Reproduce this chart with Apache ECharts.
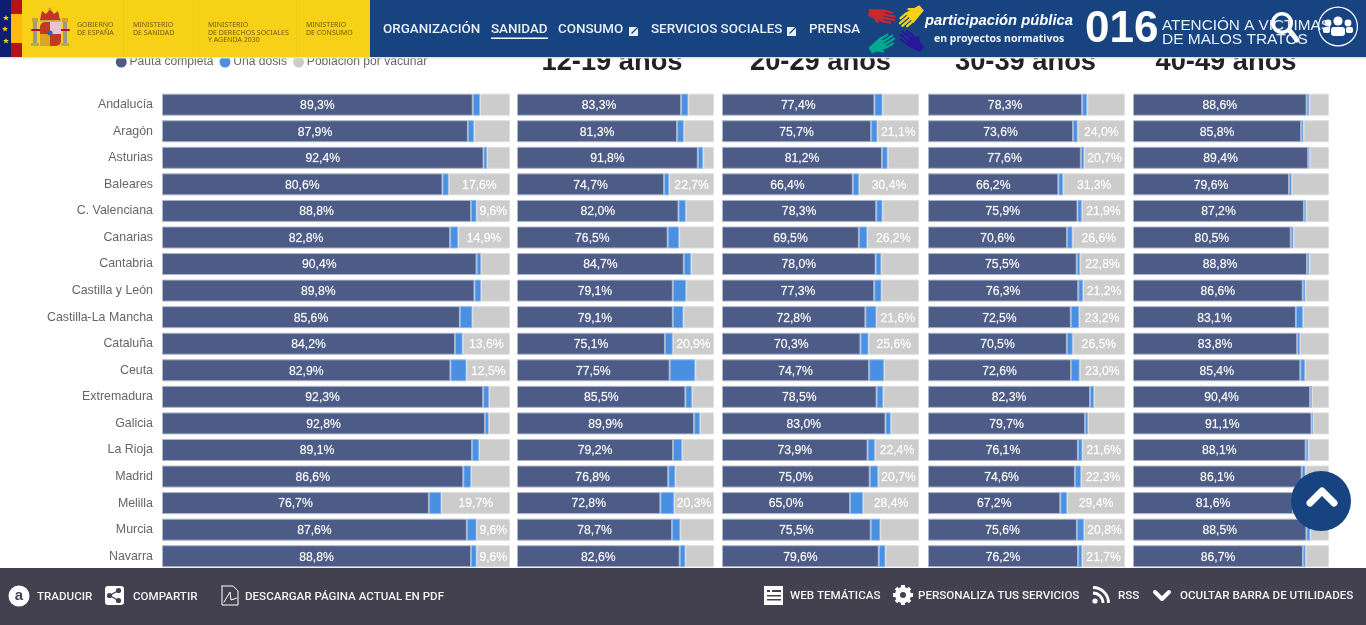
<!DOCTYPE html>
<html>
<head>
<meta charset="utf-8">
<title>Vacunación por grupos de edad</title>
<script src="https://cdn.jsdelivr.net/npm/echarts@6/dist/echarts.min.js"></script>
<style>
html, body { margin: 0; padding: 0; background: #fff; overflow: hidden; }
#chart { width: 1366px; height: 625px; }
</style>
</head>
<body>
<div id="chart"></div>
<script>
// datos
var comunidades = ['Andalucía', 'Aragón', 'Asturias', 'Baleares', 'C. Valenciana', 'Canarias', 'Cantabria', 'Castilla y León', 'Castilla-La Mancha', 'Cataluña', 'Ceuta', 'Extremadura', 'Galicia', 'La Rioja', 'Madrid', 'Melilla', 'Murcia', 'Navarra'];

var completaTotal = [89.3, 87.9, 92.4, 80.6, 88.8, 82.8, 90.4, 89.8, 85.6, 84.2, 82.9, 92.3, 92.8, 89.1, 86.6, 76.7, 87.6, 88.8];
var unaTotal = [2.1, 1.8, 1.0, 1.8, 1.6, 2.3, 1.3, 1.9, 3.6, 2.2, 4.6, 1.7, 1.1, 2.0, 2.2, 3.6, 2.8, 1.6];
var faltaTotal = [8.6, 10.3, 6.6, 17.6, 9.6, 14.9, 8.3, 8.3, 10.8, 13.6, 12.5, 6.0, 6.1, 8.9, 11.2, 19.7, 9.6, 9.6];

var completa12 = [83.3, 81.3, 91.8, 74.7, 82.0, 76.5, 84.7, 79.1, 79.1, 75.1, 77.5, 85.5, 89.9, 79.2, 76.8, 72.8, 78.7, 82.6];
var una12 = [3.7, 3.4, 2.7, 2.6, 3.7, 5.8, 3.7, 6.8, 5.4, 4.0, 13.0, 3.4, 3.0, 4.6, 3.6, 6.9, 4.2, 2.9];
var falta12 = [13.0, 15.3, 5.5, 22.7, 14.3, 17.7, 11.6, 14.1, 15.5, 20.9, 9.5, 11.1, 7.1, 16.2, 19.6, 20.3, 17.1, 14.5];

var completa20 = [77.4, 75.7, 81.2, 66.4, 78.3, 69.5, 78.0, 77.3, 72.8, 70.3, 74.7, 78.5, 83.0, 73.9, 75.0, 65.0, 75.5, 79.6];
var una20 = [4.1, 3.2, 2.9, 3.2, 3.2, 4.3, 2.9, 3.7, 5.6, 4.1, 7.6, 3.4, 2.7, 3.7, 4.3, 6.6, 4.9, 3.4];
var falta20 = [18.5, 21.1, 15.9, 30.4, 18.5, 26.2, 19.1, 19.0, 21.6, 25.6, 17.7, 18.1, 14.3, 22.4, 20.7, 28.4, 19.6, 17.0];

var completa30 = [78.3, 73.6, 77.6, 66.2, 75.9, 70.6, 75.5, 76.3, 72.5, 70.5, 72.6, 82.3, 79.7, 76.1, 74.6, 67.2, 75.6, 76.2];
var una30 = [2.5, 2.4, 1.7, 2.5, 2.2, 2.8, 1.7, 2.5, 4.3, 3.0, 4.4, 2.0, 1.5, 2.3, 3.1, 3.4, 3.6, 2.1];
var falta30 = [19.2, 24.0, 20.7, 31.3, 21.9, 26.6, 22.8, 21.2, 23.2, 26.5, 23.0, 15.7, 18.8, 21.6, 22.3, 29.4, 20.8, 21.7];

var completa40 = [88.6, 85.8, 89.4, 79.6, 87.2, 80.5, 88.8, 86.6, 83.1, 83.8, 85.4, 90.4, 91.1, 88.1, 86.1, 81.6, 88.5, 86.7];
var una40 = [1.4, 1.2, 0.7, 1.4, 1.2, 1.4, 1.2, 1.4, 3.6, 1.4, 2.4, 1.0, 0.9, 1.4, 1.9, 2.2, 2.0, 1.4];
var falta40 = [10.0, 13.0, 9.9, 19.0, 11.6, 18.1, 10.0, 12.0, 13.3, 14.8, 12.2, 8.6, 8.0, 10.5, 12.0, 16.2, 9.5, 11.9];

var titulos = ['', '12-19 años', '20-29 años', '30-39 años', '40-49 años'];
var nombresSerie = ['Pauta completa', 'Una dosis', 'Población por vacunar'];

var paneles = [
    { left: 162, width: 348, centroTitulo: 0, datos: [completaTotal, unaTotal, faltaTotal] },
    { left: 517, width: 197, centroTitulo: 612, datos: [completa12, una12, falta12] },
    { left: 722, width: 197, centroTitulo: 820.5, datos: [completa20, una20, falta20] },
    { left: 928, width: 197, centroTitulo: 1025.5, datos: [completa30, una30, falta30] },
    { left: 1133, width: 196, centroTitulo: 1226, datos: [completa40, una40, falta40] }
];

var colores = ['#4d5c87', '#4a90e2', '#cccccc'];
var bordes = ['#aeb5c9', '#8fb8ea', '#dedede'];
var fuente = '"Liberation Sans", Arial, sans-serif';

function pct(v) {
    return v.toFixed(1).replace('.', ',') + '%';
}

// la etiqueta gris solo aparece si cabe en el tramo
function etiquetaGris(ancho) {
    return function (p) {
        var px = p.value * ancho / 100;
        return px >= (p.value >= 10 ? 39 : 32) ? pct(p.value) : '';
    };
}

var grids = [], xAxes = [], yAxes = [], series = [], titles = [];
paneles.forEach(function (panel, i) {
    grids.push({ left: panel.left, width: panel.width, top: 91.4, height: 478.1 });
    xAxes.push({ type: 'value', gridIndex: i, min: 0, max: 100, show: false });
    yAxes.push({
        type: 'category',
        gridIndex: i,
        inverse: true,
        data: comunidades,
        axisLine: { show: false },
        axisTick: { show: false },
        axisLabel: {
            show: i === 0,
            margin: 9,
            color: '#666666',
            fontSize: 12.4,
            fontFamily: fuente,
            padding: [0, 0, 4, 0]
        }
    });
    panel.datos.forEach(function (valores, j) {
        var label = { show: false };
        if (j === 0) {
            label = {
                show: true, position: 'inside', offset: [0, 1], color: '#fff', fontSize: 12.2, fontFamily: fuente,
                textBorderColor: 'rgba(255,255,255,0.4)', textBorderWidth: 0.4,
                formatter: function (p) { return pct(p.value); }
            };
        } else if (j === 2) {
            label = {
                show: true, position: 'inside', offset: [0, 1], color: '#fff', fontSize: 12.2, fontFamily: fuente,
                textBorderColor: 'rgba(255,255,255,0.5)', textBorderWidth: 0.35,
                formatter: etiquetaGris(panel.width)
            };
        }
        series.push({
            name: nombresSerie[j],
            type: 'bar',
            stack: 'p' + i,
            xAxisIndex: i,
            yAxisIndex: i,
            barWidth: 22,
            data: valores,
            label: label,
            itemStyle: { color: colores[j], borderColor: bordes[j], borderWidth: 1 }
        });
    });
    if (titulos[i]) {
        titles.push({
            text: titulos[i],
            left: panel.centroTitulo - 5,
            top: 44,
            textAlign: 'center',
            textStyle: { fontSize: 27.3, fontWeight: 'bold', color: '#222222', fontFamily: fuente }
        });
    }
});

// ---- cabecera y pie de la pagina ----
var Z = 50;
function rect(x, y, w, h, fill, r) {
    return { type: 'rect', z: Z, shape: { x: x, y: y, width: w, height: h, r: r || 0 }, style: { fill: fill } };
}
function circle(x, y, r, fill) {
    return { type: 'circle', z: Z + 1, shape: { cx: x, cy: y, r: r }, style: { fill: fill } };
}
function poly(pts, fill) {
    return { type: 'polygon', z: Z + 1, shape: { points: pts }, style: { fill: fill } };
}
function trazo(pts, color, w) {
    return { type: 'polyline', z: Z + 3, shape: { points: pts }, style: { stroke: color, lineWidth: w, fill: null, lineCap: 'round', lineJoin: 'round' } };
}
function texto(t, x, y, font, fill, align) {
    return { type: 'text', z: Z + 2, x: x, y: y, style: { text: t, font: font, fill: fill, textAlign: align || 'left', textVerticalAlign: 'middle' } };
}
function estrella(x, y) {
    return poly([[x, y - 3], [x + 0.8, y - 1], [x + 3, y - 1], [x + 1.2, y + 0.4], [x + 2, y + 2.6], [x, y + 1.2], [x - 2, y + 2.6], [x - 1.2, y + 0.4], [x - 3, y - 1], [x - 0.8, y - 1]], '#f7d117');
}
function mano(x, y, rot, color) {
    var dedos = [-5, -2, 1, 4].map(function (d, k) {
        return { type: 'rect', z: Z + 1, shape: { x: 2, y: d, width: k === 0 || k === 3 ? 8 : 11, height: 2, r: 1 }, style: { fill: color } };
    });
    return {
        type: 'group', x: x, y: y, rotation: rot, scaleX: 1.15, scaleY: 1.15,
        children: [
            { type: 'polygon', z: Z + 1, shape: { points: [[-11, -3], [3, -5.5], [3, 6], [-11, 3]] }, style: { fill: color } },
            { type: 'rect', z: Z + 1, shape: { x: -3, y: 5, width: 7, height: 2, r: 1 }, style: { fill: color }, rotation: -0.7 }
        ].concat(dedos)
    };
}

var NAVY = '#174481';
var OLIVA = '#6f5a14';
var MENU = '500 13.4px Roboto';
var PIE = '500 11.6px Roboto';
var graficos = [
    rect(0, 0, 370, 57, '#f7d117'),
    rect(370, 0, 996, 57, NAVY),
    rect(0, 57, 1366, 1.5, '#dfe1e6'),
    // bandera
    rect(0, 0, 11, 57, '#0c1d72'),
    rect(11, 0, 11, 14, '#b5121b'),
    rect(11, 14, 11, 29, '#fdbb0f'),
    rect(11, 43, 11, 14, '#b5121b'),
    estrella(6, 18), estrella(5, 29), estrella(6, 41),
    // escudo
    rect(33, 21, 4, 24, '#9a9a8a'),
    rect(63, 21, 4, 24, '#9a9a8a'),
    rect(32, 18, 6, 4, '#c5a52e'),
    rect(62, 18, 6, 4, '#c5a52e'),
    rect(31, 43, 8, 3, '#b5a96a'),
    rect(61, 43, 8, 3, '#b5a96a'),
    rect(31, 29, 39, 2, '#b5121b', 1),
    rect(40, 22, 21, 24, '#c23a26', 5),
    rect(50, 22, 11, 12, '#e4c6cf'),
    rect(40, 34, 10, 12, '#d8a623'),
    circle(50, 33, 2.5, '#3a5aa8'),
    poly([[40, 20], [42, 11], [46, 14], [50, 9], [54, 14], [58, 11], [60, 20]], '#c5322a'),
    rect(40, 19, 21, 2.5, '#c5a52e'),
    circle(50, 9, 1.5, '#c5a52e'),
    // texto ministerios
    texto('GOBIERNO', 77, 25, '7px "Noto Sans"', OLIVA),
    texto('DE ESPAÑA', 77, 32.5, '7px "Noto Sans"', OLIVA),
    rect(123, 0, 0.7, 57, '#f2c70e'),
    texto('MINISTERIO', 133, 25, '7px "Noto Sans"', OLIVA),
    texto('DE SANIDAD', 133, 32.5, '7px "Noto Sans"', OLIVA),
    rect(198, 0, 0.7, 57, '#f2c70e'),
    texto('MINISTERIO', 208, 25, '7px "Noto Sans"', OLIVA),
    texto('DE DERECHOS SOCIALES', 208, 32.5, '7px "Noto Sans"', OLIVA),
    texto('Y AGENDA 2030', 208, 40, '7px "Noto Sans"', OLIVA),
    rect(296, 0, 0.7, 57, '#f2c70e'),
    texto('MINISTERIO', 306, 25, '7px "Noto Sans"', OLIVA),
    texto('DE CONSUMO', 306, 32.5, '7px "Noto Sans"', OLIVA),
    // menu
    texto('ORGANIZACIÓN', 383, 30, MENU, '#e9eef5'),
    texto('SANIDAD', 491, 30, MENU, '#e9eef5'),
    rect(491, 37.5, 57, 1.5, '#ffffff'),
    texto('CONSUMO', 558, 30, MENU, '#e9eef5'),
    rect(629, 27, 9, 9, '#e9eef5'),
    trazo([[632, 33], [639, 26]], NAVY, 1.3),
    texto('SERVICIOS SOCIALES', 651, 30, MENU, '#e9eef5'),
    rect(787, 27, 9, 9, '#e9eef5'),
    trazo([[790, 33], [797, 26]], NAVY, 1.3),
    texto('PRENSA', 809, 30, MENU, '#e9eef5'),
    // manos participacion
    mano(881, 15, -0.2, '#c9282c'),
    mano(912, 16, 3.85, '#f7d117'),
    mano(881, 44, 0.55, '#00a88f'),
    mano(912, 42, 2.5, '#2a169c'),
    texto('participación pública', 925, 21, 'italic bold 14.8px "Liberation Sans"', '#ffffff'),
    texto('en proyectos normativos', 934, 39, 'bold 10.5px "Noto Sans"', '#f0f3f8'),
    texto('016', 1085, 30, 'bold 44px "Liberation Sans"', '#ffffff'),
    texto('ATENCIÓN A VICTIMAS', 1162, 26, '15.3px "Liberation Sans"', '#e9eef5'),
    texto('DE MALOS TRATOS', 1162, 40, '15.5px "Liberation Sans"', '#e9eef5'),
    // lupa
    { type: 'ring', z: Z + 3, shape: { cx: 1282, cy: 23, r: 11, r0: 7.5 }, style: { fill: '#ffffff' } },
    trazo([[1290, 31], [1297, 40]], '#ffffff', 5),
    // usuarios
    { type: 'ring', z: Z + 2, shape: { cx: 1338, cy: 26.5, r: 20, r0: 18.8 }, style: { fill: '#ffffff' } },
    circle(1338, 21, 4.6, '#ffffff'),
    circle(1328, 23, 3.4, '#ffffff'),
    circle(1348, 23, 3.4, '#ffffff'),
    rect(1331, 27, 14, 9, '#ffffff', 3),
    rect(1323, 27, 7, 6, '#ffffff', 2),
    rect(1346, 27, 7, 6, '#ffffff', 2),
    // boton subir
    { type: 'circle', z: Z, shape: { cx: 1321, cy: 501, r: 30 }, style: { fill: NAVY } },
    trazo([[1310, 503], [1322, 491], [1334, 503]], '#ffffff', 7),
    // pie
    rect(0, 568, 1366, 57, '#43414f'),
    circle(19, 596, 10.5, '#ffffff'),
    texto('a', 19, 596, 'bold 15px "Liberation Sans"', '#43414f', 'center'),
    texto('TRADUCIR', 37, 597, PIE, '#f2f2f2'),
    rect(105, 586, 19, 19, '#ffffff', 3),
    circle(109.5, 595.5, 2.6, '#43414f'),
    circle(118.5, 590.5, 2.6, '#43414f'),
    circle(118.5, 600.5, 2.6, '#43414f'),
    trazo([[118.5, 590.5], [109.5, 595.5], [118.5, 600.5]], '#43414f', 1.4),
    texto('COMPARTIR', 133, 597, PIE, '#f2f2f2'),
    trazo([[222, 586], [233, 586], [238, 591], [238, 605], [222, 605], [222, 586]], '#ffffff', 1),
    trazo([[224, 602], [230, 592], [231, 600], [237, 598]], '#ffffff', 1),
    texto('DESCARGAR PÁGINA ACTUAL EN PDF', 245, 597, PIE, '#f2f2f2'),
    rect(764, 586, 19, 19, '#ffffff'),
    { type: 'rect', z: Z + 1, shape: { x: 767, y: 590, width: 3, height: 2 }, style: { fill: '#43414f' } },
    { type: 'rect', z: Z + 1, shape: { x: 772, y: 590, width: 9, height: 2 }, style: { fill: '#43414f' } },
    { type: 'rect', z: Z + 1, shape: { x: 767, y: 595, width: 14, height: 1.5 }, style: { fill: '#43414f' } },
    { type: 'rect', z: Z + 1, shape: { x: 767, y: 599, width: 14, height: 1.5 }, style: { fill: '#43414f' } },
    texto('WEB TEMÁTICAS', 790, 596, PIE, '#f2f2f2'),
    { type: 'circle', z: Z, shape: { cx: 903, cy: 595, r: 8 }, style: { fill: '#ffffff' } },
    rect(901, 585, 4, 20, '#ffffff'),
    rect(893, 593, 20, 4, '#ffffff'),
    { type: 'polyline', z: Z, shape: { points: [[896, 588], [910, 602]] }, style: { stroke: '#ffffff', lineWidth: 3.5 } },
    { type: 'polyline', z: Z, shape: { points: [[910, 588], [896, 602]] }, style: { stroke: '#ffffff', lineWidth: 3.5 } },
    circle(903, 595, 3, '#43414f'),
    texto('PERSONALIZA TUS SERVICIOS', 918, 596, PIE, '#f2f2f2'),
    circle(1095, 601, 2.6, '#ffffff'),
    { type: 'arc', z: Z + 1, shape: { cx: 1093, cy: 603, r: 10, startAngle: -Math.PI / 2, endAngle: 0 }, style: { stroke: '#ffffff', lineWidth: 2.8, fill: null } },
    { type: 'arc', z: Z + 1, shape: { cx: 1093, cy: 603, r: 15.5, startAngle: -Math.PI / 2, endAngle: 0 }, style: { stroke: '#ffffff', lineWidth: 2.8, fill: null } },
    texto('RSS', 1118, 596, PIE, '#f2f2f2'),
    trazo([[1155, 592], [1162, 599], [1169, 592]], '#ffffff', 4),
    texto('OCULTAR BARRA DE UTILIDADES', 1180, 596, PIE, '#f2f2f2')
];

var myChart = echarts.init(document.getElementById('chart'));

var option = {
    animation: false,
    backgroundColor: '#ffffff',
    title: titles,
    legend: {
        data: nombresSerie.map(function (n, k) {
            return { name: n, itemStyle: { borderColor: colores[k], borderWidth: 4.5 } };
        }),
        left: 110.75,
        top: 51,
        icon: 'circle',
        itemWidth: 6.5,
        itemHeight: 6.5,
        itemGap: 6,
        selectedMode: false,
        textStyle: { color: '#666666', fontSize: 12.1, fontFamily: fuente }
    },
    grid: grids,
    xAxis: xAxes,
    yAxis: yAxes,
    series: series,
    graphic: { elements: graficos }
};
myChart.setOption(option);
</script>
</body>
</html>
